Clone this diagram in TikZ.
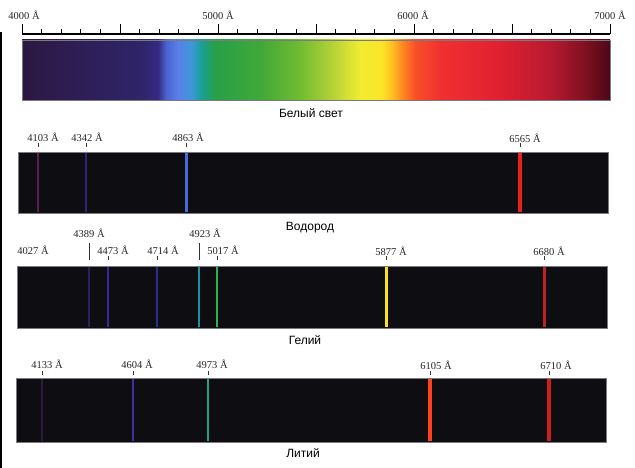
\documentclass[tikz,border=0pt]{standalone}
\usepackage{fontspec}
\setmainfont{Liberation Serif}
\newfontfamily\labsans{Liberation Sans}
\definecolor{s01}{HTML}{2A1840}
\definecolor{s02}{HTML}{2E1C50}
\definecolor{s03}{HTML}{2E2468}
\definecolor{s04}{HTML}{352A80}
\definecolor{s05}{HTML}{4A62D0}
\definecolor{s06}{HTML}{5A80E8}
\definecolor{s07}{HTML}{3A98D8}
\definecolor{s08}{HTML}{18A090}
\definecolor{s09}{HTML}{28A048}
\definecolor{s10}{HTML}{40A838}
\definecolor{s11}{HTML}{70BC30}
\definecolor{s12}{HTML}{B0D038}
\definecolor{s13}{HTML}{F0EC30}
\definecolor{s14}{HTML}{FCE428}
\definecolor{s15}{HTML}{FFC020}
\definecolor{s16}{HTML}{FF8A20}
\definecolor{s17}{HTML}{F85028}
\definecolor{s18}{HTML}{F03030}
\definecolor{s19}{HTML}{E02030}
\definecolor{s20}{HTML}{B81A30}
\definecolor{s21}{HTML}{801020}
\definecolor{s22}{HTML}{4A0818}
\definecolor{barfill}{HTML}{0E0E12}
\definecolor{baredge}{HTML}{7A7A80}
\pgfdeclarehorizontalshading{spectrum}{100bp}{%
color(0bp)=(s01); color(25bp)=(s01); color(28.23bp)=(s02); color(35.03bp)=(s03);
color(36.56bp)=(s04); color(37.24bp)=(s05); color(38.26bp)=(s06); color(39.45bp)=(s07);
color(40.31bp)=(s08); color(41.41bp)=(s09); color(45.24bp)=(s10); color(48.64bp)=(s11);
color(51.19bp)=(s12); color(53.74bp)=(s13); color(55.61bp)=(s14); color(56.46bp)=(s15);
color(57.31bp)=(s16); color(58.42bp)=(s17); color(60.54bp)=(s18); color(65.64bp)=(s19);
color(69.90bp)=(s20); color(72.87bp)=(s21); color(75bp)=(s22); color(100bp)=(s22)}
\tikzset{
  wl/.style={font=\fontsize{10.5}{11}\selectfont, text=black!85, inner sep=0pt},
  elname/.style={font=\labsans\fontsize{12}{13}\selectfont, text=black, inner sep=0pt},
  barbox/.style={fill=barfill, draw=baredge, line width=0.8pt},
  smalltick/.style={line width=0.9pt, draw=black!80},
}
\begin{document}
\begin{tikzpicture}[x=1pt,y=-1pt]
\useasboundingbox[fill=white] (0,0) rectangle (635,468);
% left frame line
\draw[line width=1.5pt, black] (0.75,32) -- (0.75,468);
% ruler
\draw[line width=1.1pt, black] (22,34) coordinate (rl) -- (610,34) coordinate (rr);
\foreach \k in {0,...,30}{
  \pgfmathsetmacro{\xx}{22+\k*19.6}
  \pgfmathtruncatemacro{\mm}{mod(\k,5)}
  \ifnum\mm=0
    \draw[line width=0.9pt] (\xx,34) -- (\xx,24);
  \else
    \draw[line width=0.8pt] (\xx,34) -- (\xx,29);
  \fi
}
\node[wl] (r4) at (24,15) {4000 Å};
\node[wl] (r5) at (218,15) {5000 Å};
\node[wl] (r6) at (413,15) {6000 Å};
\node[wl] (r7) at (610,15) {7000 Å};
% white light spectrum
\shade[shading=spectrum] (22,40) rectangle (610,100);
\draw[baredge, line width=0.6pt] (22,40) rectangle (610,100);
\node[elname] (white) at (311,113) {Белый свет};
% Hydrogen
\draw[barbox] (18,152) rectangle (608,213);
\foreach \x/\c/\w in {38/5A2050/2, 86/302478/2, 186/4A6AD8/3, 520/E82020/3.5}{
  \definecolor{lc}{HTML}{\c}
  \draw[lc, line width=\w pt] (\x,153) -- (\x,212);
  \draw[smalltick] (\x,143) -- (\x,147);
}
\node[wl] (h1) at (43,137) {4103 Å};
\node[wl] (h2) at (87,137) {4342 Å};
\node[wl] (h3) at (188,137) {4863 Å};
\node[wl] (h4) at (525,138) {6565 Å};
\node[elname] (hyd) at (310,228) {Водород};
% Helium
\draw[barbox] (17,266) rectangle (607,328);
\foreach \x/\c/\w in {89/2A2060/1.5, 108/3A2A90/2, 157/2A3090/2, 199/2090A0/2, 217/30B050/2, 386/FFE020/3, 544/C02020/3}{
  \definecolor{lc}{HTML}{\c}
  \draw[lc, line width=\w pt] (\x,267) -- (\x,327);
}
\foreach \x in {108,157,217,386,544}{
  \draw[smalltick] (\x,256) -- (\x,260);
}
\draw[line width=0.9pt, black!80] (89,243) -- (89,260);
\draw[line width=0.9pt, black!80] (199,243) -- (199,260);
\node[wl] (he0) at (33,250) {4027 Å};
\node[wl] (he1) at (89,233) {4389 Å};
\node[wl] (he2) at (113,250) {4473 Å};
\node[wl] (he3) at (163,250) {4714 Å};
\node[wl] (he4) at (205,233) {4923 Å};
\node[wl] (he5) at (223,250) {5017 Å};
\node[wl] (he6) at (391,251) {5877 Å};
\node[wl] (he7) at (549,251) {6680 Å};
\node[elname] (hel) at (305,340) {Гелий};
% Lithium
\draw[barbox] (16,378) rectangle (606,442);
\foreach \x/\c/\w in {42/301A40/1.5, 133/4030A0/2.5, 208/20A080/2.5, 430/FF4020/4, 549/C82020/3.5}{
  \definecolor{lc}{HTML}{\c}
  \draw[lc, line width=\w pt] (\x,379) -- (\x,441);
  \draw[smalltick] (\x,371) -- (\x,375);
}
\node[wl] (l1) at (47,364) {4133 Å};
\node[wl] (l2) at (137,364) {4604 Å};
\node[wl] (l3) at (212,364) {4973 Å};
\node[wl] (l4) at (436,365) {6105 Å};
\node[wl] (l5) at (556,365) {6710 Å};
\node[elname] (lit) at (303,453) {Литий};
\end{tikzpicture}
\end{document}
